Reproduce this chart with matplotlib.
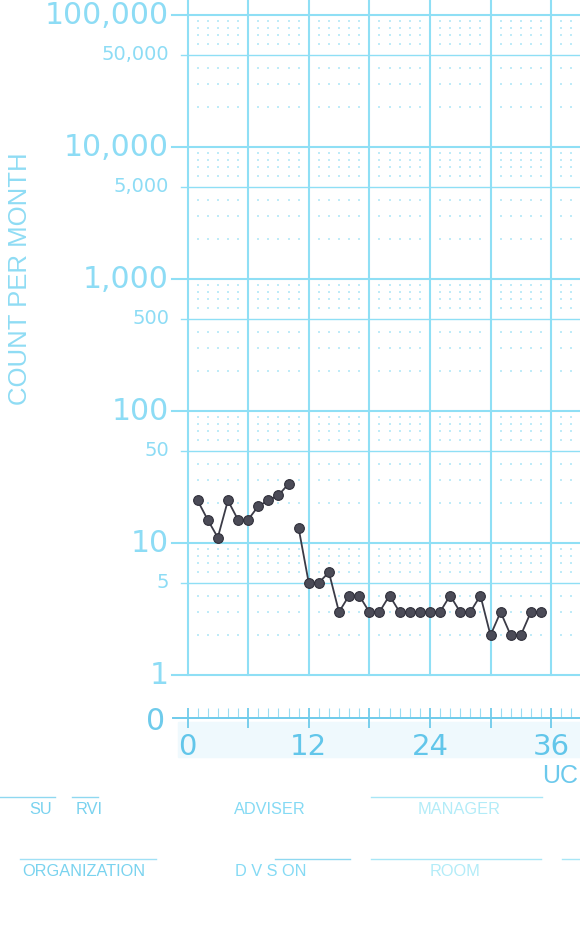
import matplotlib
matplotlib.use("Agg")
import matplotlib.pyplot as plt
from matplotlib.lines import Line2D
from matplotlib.patches import Rectangle
import numpy as np

# counts per month (two phases, line broken between them)
months_a = [1, 2, 3, 4, 5, 6, 7, 8, 9, 10]
counts_a = [21, 15, 11, 21, 15, 15, 19, 21, 23, 28]
months_b = list(range(11, 36))
counts_b = [13, 5, 5, 6, 3, 4, 4, 3, 3, 4, 3, 3, 3, 3, 3, 4, 3, 3, 4, 2, 3, 2, 2, 3, 3]

decade_ticks = [1, 10, 100, 1000, 10000, 100000]
decade_labels = ["1", "10", "100", "1,000", "10,000", "100,000"]
half_ticks = [5, 50, 500, 5000, 50000]
half_labels = ["5", "50", "500", "5,000", "50,000"]
x_major = [0, 6, 12, 18, 24, 30, 36]
x_labels = ["0", "", "12", "", "24", "", "36"]

W, H = 580, 933
GRID = "#8fdff5"
LABEL = "#8ddcf5"
AXIS = "#6fcbeb"


def fx(px):
    return px / W


def fy(py):
    return 1 - py / H


fig = plt.figure(figsize=(W / 100, H / 100), dpi=100)

# main log panel: left edge at x=187.5 px, value 1 at y=675 px, 132 px per decade
x0 = 187.5
px_month = 10.1
xmax = (W - x0) / px_month
ax = fig.add_axes([fx(x0), fy(675), 1 - fx(x0), 675 / H])
ax.set_yscale("log")
ax.set_xlim(0, xmax)
ax.set_ylim(1, 10 ** (5 + 15 / 132.0))
ax.set_axis_off()

# faint dotted sub-grid (months x 2..9 of each decade)
minor_x = np.arange(1, int(xmax) + 1)
minor_y = [m * 10 ** d for d in range(5) for m in range(2, 10) if m != 5]
gx, gy = np.meshgrid(minor_x, minor_y)
ax.scatter(gx.ravel(), gy.ravel(), s=0.9, marker="s", color="#bfebf8",
           linewidths=0, zorder=1)

span = W - x0
for v in decade_ticks:
    ax.axhline(v, xmin=-15.5 / span, color=GRID, lw=1.5, clip_on=False, zorder=2)
for v in half_ticks:
    ax.axhline(v, xmin=-7 / span, color=GRID, lw=1.0, clip_on=False, zorder=2)
for m in x_major:
    ax.axvline(m, color=GRID, lw=1.5, clip_on=False, zorder=2)

trans = ax.get_yaxis_transform()
xlab = -(x0 - 169) / span
for v, lab in zip(decade_ticks, decade_labels):
    ax.text(xlab, v, lab, transform=trans, ha="right", va="center",
            fontsize=21.5, color=LABEL)
for v, lab in zip(half_ticks, half_labels):
    ax.text(xlab, v, lab, transform=trans, ha="right", va="center",
            fontsize=14, color=LABEL)

for xs, ys in [(months_a, counts_a), (months_b, counts_b)]:
    ax.plot(xs, ys, color="#3b3b47", lw=1.3, marker="o", ms=7,
            mfc="#4b4b57", mec="#2f2f3a", mew=0.8, clip_on=False, zorder=5)

# bottom time axis
fig.add_artist(Rectangle((fx(178), fy(757)), 1 - fx(178), 35 / H,
                         transform=fig.transFigure, color="#eff9fd",
                         zorder=-1))
ax2 = fig.add_axes([fx(x0), fy(718), 1 - fx(x0), 10 / H])
ax2.set_xlim(0, xmax)
ax2.set_ylim(0, 1)
ax2.patch.set_visible(False)
for s in ax2.spines.values():
    s.set_visible(False)
ax2.axhline(0, xmin=-14.5 / span, color=AXIS, lw=1.4, clip_on=False)
ax2.set_xticks(x_major, labels=x_labels)
ax2.set_xticks(np.arange(0, int(xmax) + 1), minor=True)
ax2.tick_params(axis="x", which="major", direction="inout", length=14.4,
                width=1.3, color=AXIS, pad=3.5, labelsize=21,
                labelcolor="#62c6ea")
ax2.tick_params(axis="x", which="minor", direction="in", length=7.2,
                width=0.8, color="#9bdcf2")
ax2.yaxis.set_visible(False)

fig.text(fx(165), fy(722), "0", ha="right", va="center", fontsize=21.5,
         color="#6fcbeb")
fig.text(fx(578), fy(776), "UC", ha="right", va="center", fontsize=18,
         color="#6cc9ec", family="Liberation Sans")

fig.text(fx(20), fy(279), "COUNT PER MONTH", rotation=90, ha="center",
         va="center", fontsize=18.5, color="#8fdcf4", family="Liberation Sans")

# form fields below the chart
field_lines = [
    (0, 55, 797, "#8fd8f0"), (72, 98, 797, "#8fd8f0"), (371, 542, 797, "#a8e6f6"),
    (20, 156, 859, "#a0e0f5"), (275, 350, 859, "#8fd8f0"), (371, 541, 859, "#a8e6f6"),
    (562, 580, 859, "#a8e6f6"),
]
for x1, x2, y, c in field_lines:
    fig.add_artist(Line2D([fx(x1), fx(x2)], [fy(y), fy(y)],
                          transform=fig.transFigure, color=c, lw=1.0))

field_text = [
    (41, 809, "SU", "#79d2ef"), (89, 809, "RVI", "#79d2ef"),
    (270, 810, "ADVISER", "#85daf4"), (459, 810, "MANAGER", "#b3ecf8"),
    (84, 871, "ORGANIZATION", "#7ad3ef"), (271, 871, "D V S ON", "#85daf4"),
    (455, 872, "ROOM", "#b3ecf8"),
]
for x, y, t, c in field_text:
    fig.text(fx(x), fy(y), t, ha="center", va="center", fontsize=11.8,
             color=c, family="Liberation Sans")

fig.savefig("out.png", dpi=100)
